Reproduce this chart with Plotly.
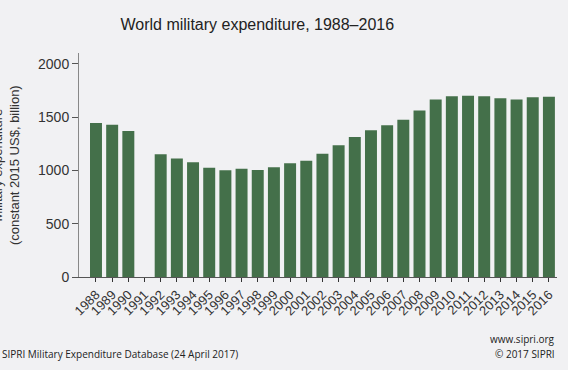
import plotly.graph_objects as go

years = [str(y) for y in range(1988, 2017)]
spending = [1443, 1428, 1368, None, 1150, 1112, 1075, 1025, 1000, 1016, 1003, 1028,
            1066, 1091, 1156, 1234, 1312, 1375, 1422, 1475, 1562, 1663, 1694, 1700,
            1694, 1675, 1663, 1684, 1690]
ytick_vals = [0, 500, 1000, 1500, 2000]

BG = "#f1f1f3"
GREEN = "#44704a"

fig = go.Figure(go.Bar(x=years, y=spending, marker=dict(color=GREEN, line=dict(width=0))))

fig.update_layout(
    width=568, height=370,
    margin=dict(l=79, r=11, t=53, b=93),
    paper_bgcolor=BG, plot_bgcolor=BG,
    bargap=0.26,
    showlegend=False,
    font=dict(family="Liberation Sans, Arial, sans-serif", color="#222"),
    title=dict(text="World military expenditure, 1988\u20132016", x=0.453, xanchor="center",
               y=0.935, yanchor="middle", font=dict(size=16, color="#222")),
)

fig.update_xaxes(type="category", range=[-1.05, 28.5], showline=True, linecolor="#555",
                 linewidth=1, ticks="outside", ticklen=4, tickcolor="#333",
                 tickmode="array", tickvals=years, ticktext=years,
                 tickangle=-45, tickfont=dict(size=13, color="#333"), showgrid=False)
fig.update_yaxes(range=[0, 2100], tickvals=ytick_vals, showline=True, linecolor="#888",
                 linewidth=1, ticks="outside", ticklen=6, tickcolor="#555",
                 tickfont=dict(size=14, color="#333"), showgrid=False, zeroline=False)

fig.add_annotation(text="Military expenditure<br>(constant 2015 US$, billion)",
                   xref="paper", yref="paper", x=0, y=0.5, xshift=-73,
                   xanchor="center", yanchor="middle", textangle=-90, showarrow=False,
                   font=dict(size=13, color="#333"))
fig.add_annotation(text="SIPRI Military Expenditure Database (24 April 2017)",
                   xref="paper", yref="paper", x=0, y=0, xshift=-79, yshift=-77,
                   xanchor="left", yanchor="middle", showarrow=False,
                   font=dict(family="Open Sans, sans-serif", size=10, color="#222"))
fig.add_annotation(text="www.sipri.org", xref="paper", yref="paper", x=1, y=0,
                   yshift=-62, xanchor="right", yanchor="middle", showarrow=False,
                   font=dict(family="Open Sans, sans-serif", size=10, color="#222"))
fig.add_annotation(text="\u00a9 2017 SIPRI", xref="paper", yref="paper", x=1, y=0,
                   yshift=-77, xanchor="right", yanchor="middle", showarrow=False,
                   font=dict(family="Open Sans, sans-serif", size=10, color="#222"))

fig.write_html("out.html")
